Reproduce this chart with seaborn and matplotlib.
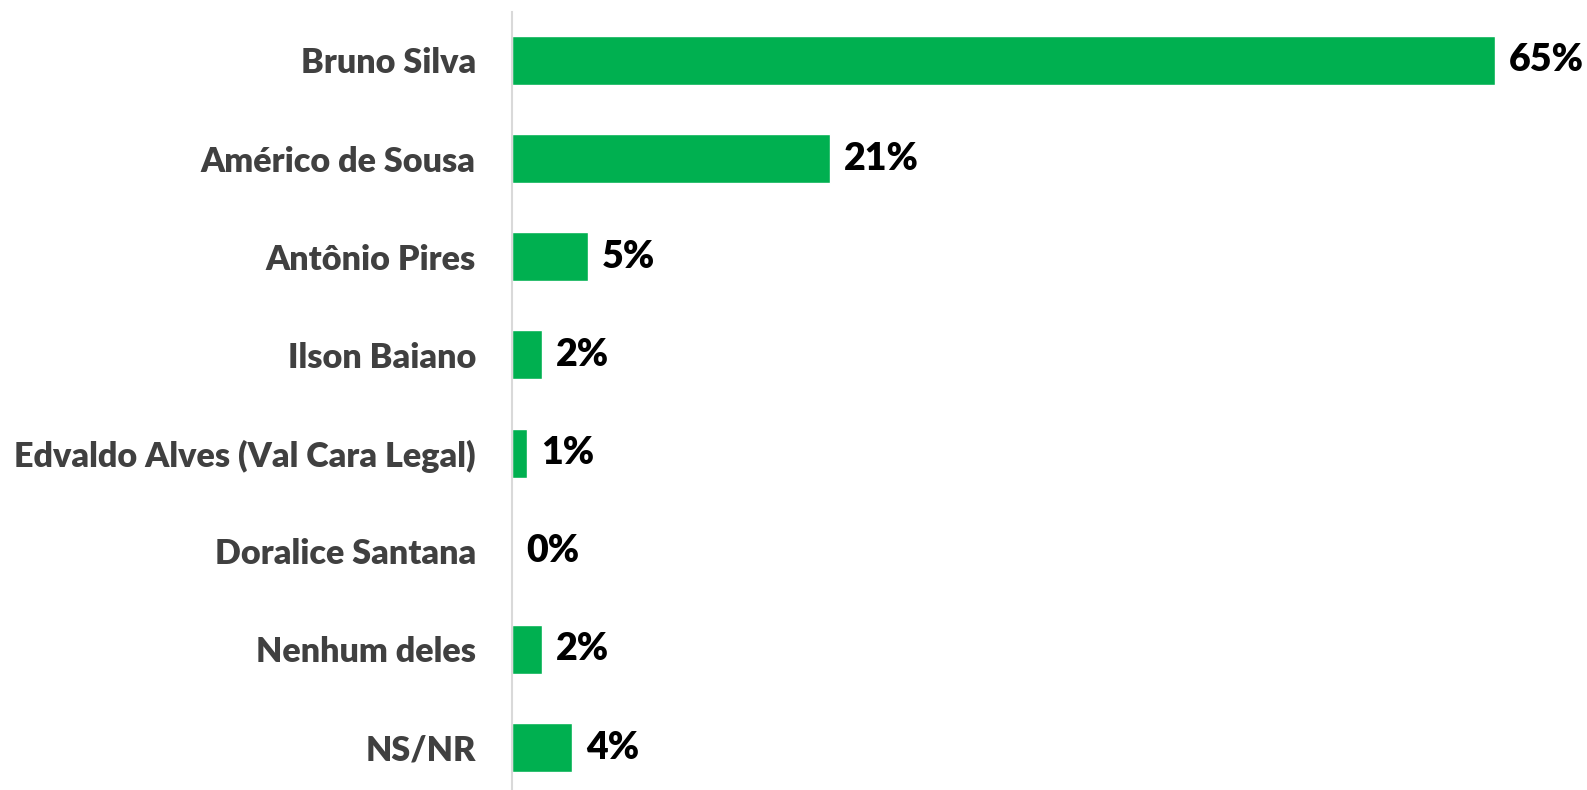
import matplotlib
matplotlib.use("Agg")
import matplotlib.pyplot as plt
import pandas as pd
import seaborn as sns

CANDIDATES = [
    "Bruno Silva",
    "Américo de Sousa",
    "Antônio Pires",
    "Ilson Baiano",
    "Edvaldo Alves (Val Cara Legal)",
    "Doralice Santana",
    "Nenhum deles",
    "NS/NR",
]
SHARES = [65, 21, 5, 2, 1, 0, 2, 4]

GREEN = "#00B050"
LABEL_GREY = "#404040"
FONT = ["Lato", "DejaVu Sans"]

sns.set_theme(style="white")
plt.rcParams["font.family"] = FONT

data = pd.DataFrame({"candidate": CANDIDATES, "share": SHARES})

fig = plt.figure(figsize=(15.87, 7.90), dpi=100)
ax = fig.add_axes([512 / 1587, 0.0, 1 - 512 / 1587, 778 / 790])
sns.barplot(
    data=data,
    y="candidate",
    x="share",
    orient="h",
    color=GREEN,
    saturation=1,
    width=0.5,
    ax=ax,
)
ax.set_xlim(0, 1075 / 15.12)
ax.set_ylim(7.433, -0.494)
ax.set_xlabel("")
ax.set_ylabel("")
ax.set_xticks([])
for side in ["top", "right", "bottom"]:
    ax.spines[side].set_visible(False)
ax.spines["left"].set_color("#D9D9D9")
ax.spines["left"].set_linewidth(1.5)
ax.tick_params(axis="y", length=0, pad=26)
for lbl in ax.get_yticklabels():
    lbl.set_fontsize(24.6)
    lbl.set_fontweight("heavy")
    lbl.set_color(LABEL_GREY)

ax.bar_label(
    ax.containers[0],
    labels=[f"{v}%" for v in SHARES],
    padding=10,
    fontsize=27,
    fontweight="heavy",
    color="black",
)

fig.savefig("out.png", dpi=100)
